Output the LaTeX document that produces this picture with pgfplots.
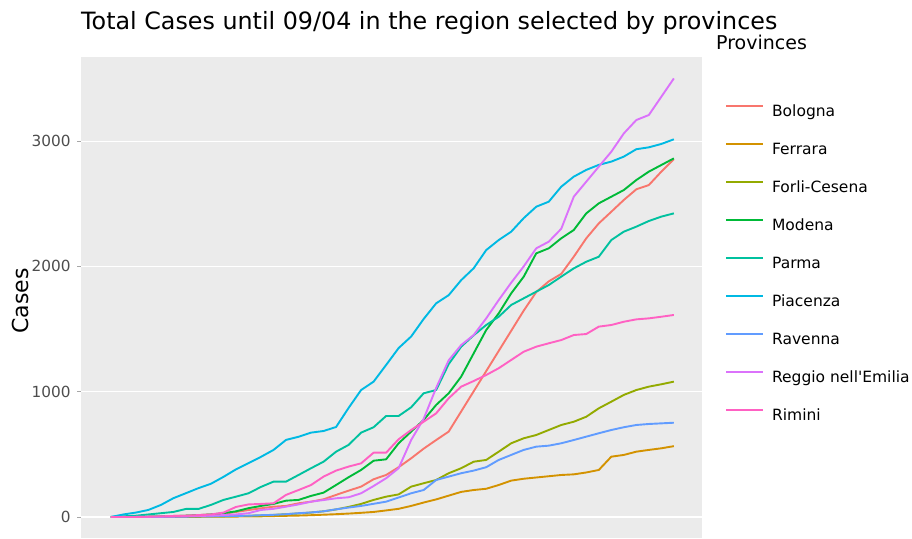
\documentclass[border=0pt]{standalone}
\usepackage{fontspec}
\setmainfont{DejaVu Sans}
\usepackage{pgfplots}
\usepackage{pgfplotstable}
\pgfplotsset{compat=1.18}
\definecolor{panelbg}{HTML}{EBEBEB}
\definecolor{tickgray}{HTML}{4D4D4D}
\definecolor{cBol}{HTML}{F8766D}
\definecolor{cFer}{HTML}{D39200}
\definecolor{cFor}{HTML}{93AA00}
\definecolor{cMod}{HTML}{00BA38}
\definecolor{cPar}{HTML}{00C19F}
\definecolor{cPia}{HTML}{00B9E3}
\definecolor{cRav}{HTML}{619CFF}
\definecolor{cReg}{HTML}{DB72FB}
\definecolor{cRim}{HTML}{FF61C3}
\pgfplotstableread{
i bol fer forl mod par pia rav reg rim
0 0 0 0 0 0 0 0 0 0
1 0 0 0 0 5 20 0 0 0
2 1 0 0 1 10 35 0 0 0
3 2 0 0 2 20 56 0 1 2
4 5 0 1 4 30 96 1 2 5
5 8 0 1 6 40 150 2 3 8
6 10 1 2 10 64 190 3 5 10
7 15 1 3 14 64 230 4 8 15
8 20 2 4 20 96 265 5 10 20
9 25 2 5 30 136 320 6 15 35
10 40 3 7 45 162 380 8 20 80
11 55 4 9 70 189 430 10 30 100
12 69 5 12 88 240 480 14 56 104
13 82 7 16 104 282 535 17 65 109
14 88 9 22 130 282 615 22 82 176
15 109 11 28 136 335 640 30 100 215
16 122 14 35 168 389 673 36 122 255
17 141 18 45 194 441 686 45 135 322
18 176 22 60 255 521 718 61 149 370
19 210 27 80 317 575 870 75 157 402
20 242 33 104 375 673 1013 88 189 428
21 301 40 136 449 716 1080 105 247 513
22 335 52 162 460 806 1213 122 309 513
23 397 65 180 588 806 1348 155 389 620
24 468 88 242 681 875 1440 189 614 694
25 545 115 269 774 987 1580 215 783 760
26 614 140 295 894 1013 1705 295 1030 827
27 681 170 349 987 1220 1770 322 1250 947
28 842 200 389 1120 1359 1890 349 1372 1040
29 1003 215 441 1306 1450 1985 370 1452 1085
30 1164 225 455 1492 1532 2130 397 1585 1133
31 1325 255 521 1625 1598 2210 455 1731 1187
32 1486 290 588 1785 1692 2277 495 1870 1253
33 1647 305 628 1918 1745 2385 535 2000 1319
34 1795 315 654 2104 1798 2476 561 2144 1359
35 1880 325 694 2144 1851 2516 569 2197 1386
36 1940 335 734 2224 1918 2636 588 2300 1412
37 2077 340 760 2290 1984 2716 614 2556 1452
38 2224 355 800 2423 2037 2770 641 2676 1460
39 2343 375 867 2503 2077 2810 668 2796 1519
40 2436 481 920 2556 2210 2836 694 2915 1532
41 2530 495 974 2609 2277 2876 716 3061 1558
42 2615 521 1013 2689 2317 2935 734 3168 1577
43 2649 535 1040 2756 2362 2950 742 3208 1585
44 2756 548 1059 2809 2397 2977 747 3354 1598
45 2855 565 1080 2862 2423 3014 752 3500 1612
}\data
\begin{document}
\begin{tikzpicture}[x=1pt,y=1pt]
\path (0,0) rectangle (912,538);
\begin{axis}[
  at={(81pt,0pt)}, anchor=south west,
  scale only axis, width=621pt, height=481pt,
  xmin=-2.39, xmax=47.25, ymin=-168, ymax=3671,
  axis background/.style={fill=panelbg},
  axis line style={draw=none},
  xtick=\empty,
  ytick={0,1000,2000,3000},
  ymajorgrids, grid style={white, line width=1.1pt},
  tick align=outside, ytick pos=left, major tick length=4pt,
  every tick/.style={gray!70, line width=0.8pt},
  /pgf/number format/assume math mode=true,
  /pgf/number format/1000 sep={},
  scaled y ticks=false,
  yticklabel style={font=\fontsize{15.3pt}{18pt}\selectfont, text=tickgray, inner sep=0pt, xshift=-6.3pt},
  legend style={at={(1,1)}, anchor=north west, xshift=23pt, yshift=-47pt,
    draw=none, fill=none, inner sep=0pt, row sep=22pt, column sep=8pt,
    font=\fontsize{15.5pt}{18pt}\selectfont,
    nodes={inner sep=0pt, text height=12pt, text depth=4pt}},
  legend cell align=left,
  legend image code/.code={\draw[#1, line width=1.9pt] (0pt,6.5pt) -- (37pt,6.5pt);},
  every axis plot/.append style={line width=1.9pt, line join=round},
]
\addplot[cBol] table[x=i,y=bol]{\data}; \addlegendentry{Bologna}
\addplot[cFer] table[x=i,y=fer]{\data}; \addlegendentry{Ferrara}
\addplot[cFor] table[x=i,y=forl]{\data}; \addlegendentry{Forli-Cesena}
\addplot[cMod] table[x=i,y=mod]{\data}; \addlegendentry{Modena}
\addplot[cPar] table[x=i,y=par]{\data}; \addlegendentry{Parma}
\addplot[cPia] table[x=i,y=pia]{\data}; \addlegendentry{Piacenza}
\addplot[cRav] table[x=i,y=rav]{\data}; \addlegendentry{Ravenna}
\addplot[cReg] table[x=i,y=reg]{\data}; \addlegendentry{Reggio nell\textquotesingle Emilia}
\addplot[cRim] table[x=i,y=rim]{\data}; \addlegendentry{Rimini}
\end{axis}
\node[anchor=base west, inner sep=0pt, font=\fontsize{23.8pt}{28pt}\selectfont] at (81,508.7) {Total Cases until 09/04 in the region selected by provinces};
\node[anchor=base west, inner sep=0pt, font=\fontsize{19pt}{22pt}\selectfont] at (716,488.7) {Provinces};
\node[rotate=90, anchor=base, inner sep=0pt, font=\fontsize{22pt}{26pt}\selectfont] at (28.3,237.2) {Cases};
\pgfresetboundingbox
\path (0,0) rectangle (912,538);
\end{tikzpicture}
\end{document}
